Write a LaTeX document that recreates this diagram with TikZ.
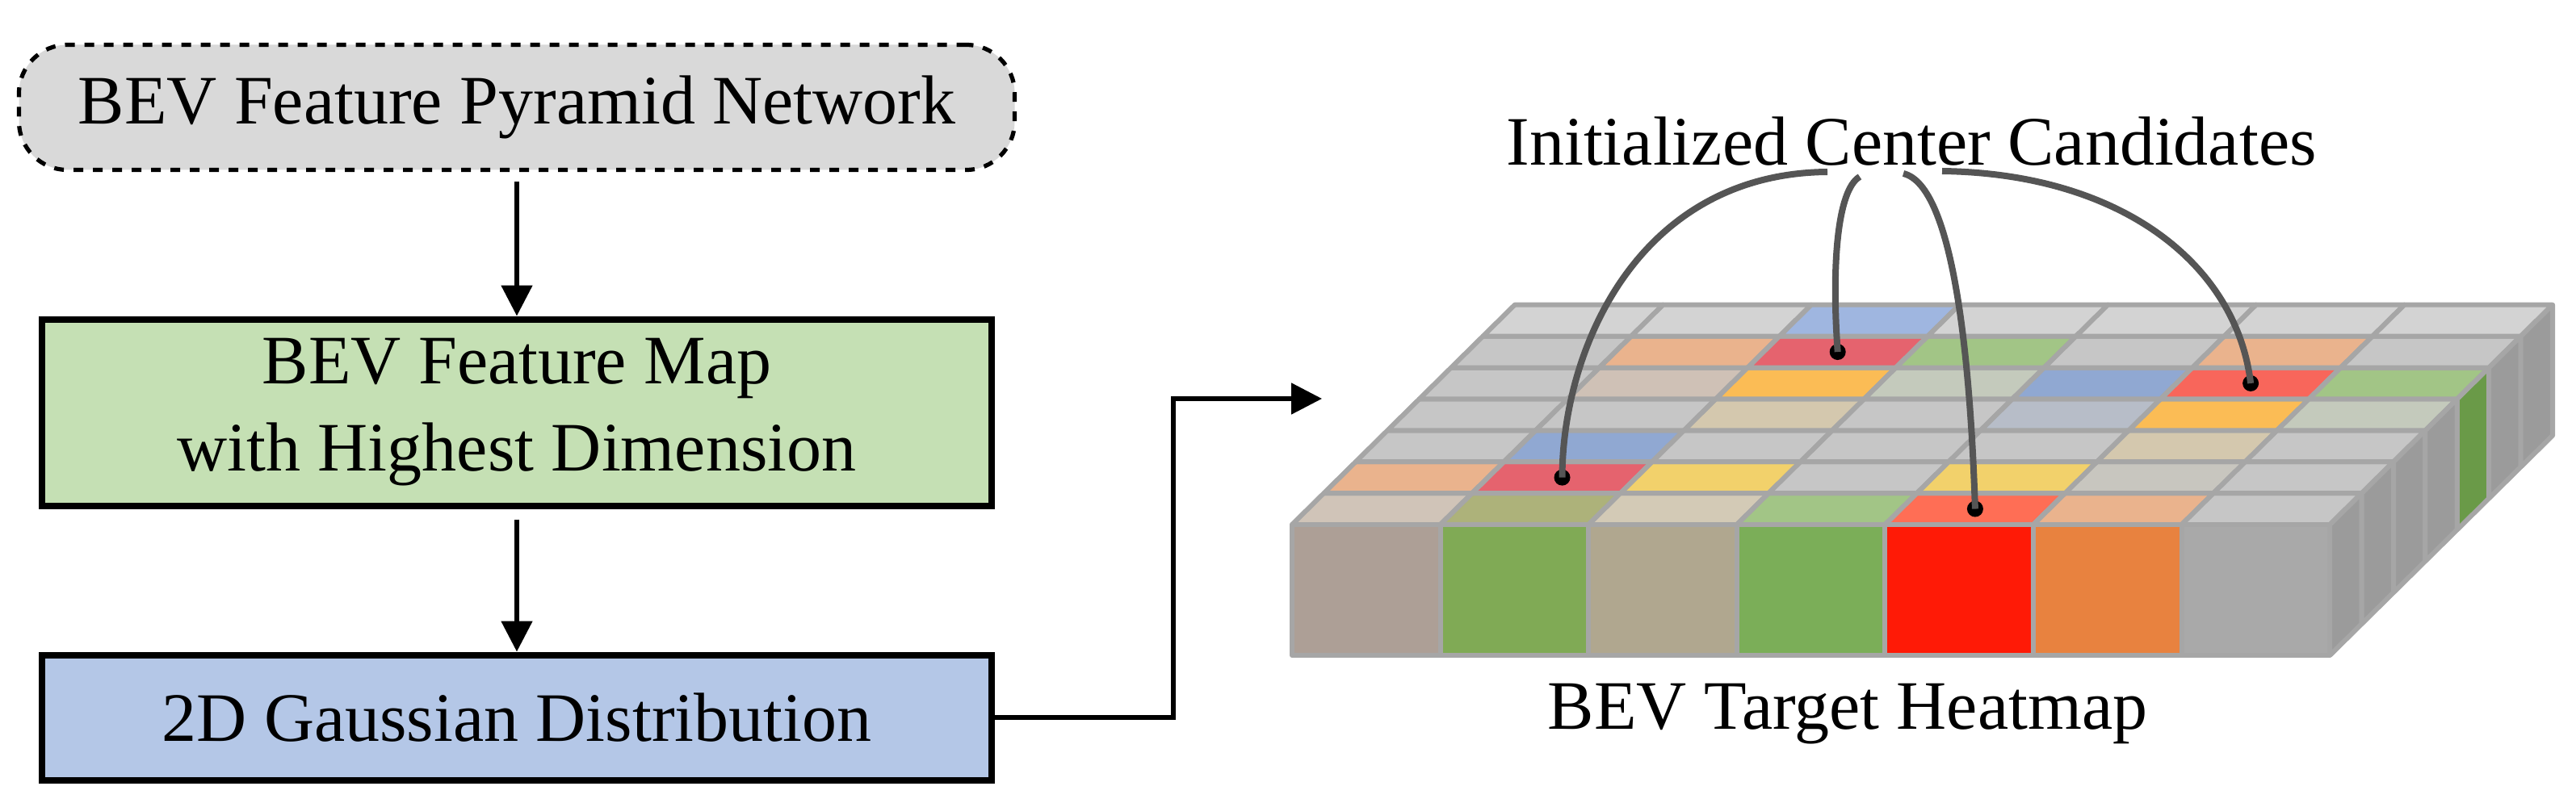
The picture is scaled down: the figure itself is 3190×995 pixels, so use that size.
\documentclass[tikz,border=0pt]{standalone}
\usepackage{fontspec}
\setmainfont{Liberation Serif}
\usetikzlibrary{arrows.meta}
\definecolor{cA}{HTML}{D0C4B8}\definecolor{cB}{HTML}{ADB27A}\definecolor{cC}{HTML}{D3CAB6}
\definecolor{cG}{HTML}{A2C586}\definecolor{cR}{HTML}{FF6E55}\definecolor{cP}{HTML}{EAB38D}
\definecolor{cH}{HTML}{C6C6C6}\definecolor{cK}{HTML}{E5636E}\definecolor{cY}{HTML}{F2D16B}
\definecolor{cI}{HTML}{C8C6BF}\definecolor{cL}{HTML}{90A8D2}\definecolor{cD}{HTML}{D4C8AE}
\definecolor{cE}{HTML}{B7BDC8}\definecolor{cO}{HTML}{FBBC55}\definecolor{cF}{HTML}{C4CABC}
\definecolor{cJ}{HTML}{CFC1B6}\definecolor{cM}{HTML}{F8665B}\definecolor{cN}{HTML}{D3D3D3}
\definecolor{cQ}{HTML}{9FB6E0}
\definecolor{fa}{HTML}{AD9F96}\definecolor{fb}{HTML}{80AA55}\definecolor{fc}{HTML}{B0A78F}
\definecolor{fd}{HTML}{7BAE58}\definecolor{fe}{HTML}{FF1A06}\definecolor{ff}{HTML}{E8823F}
\definecolor{fg}{HTML}{A9A9A9}
\definecolor{sg}{HTML}{9B9B9B}\definecolor{sgr}{HTML}{6A9A48}
\definecolor{gridl}{HTML}{A6A6A6}\definecolor{curvec}{HTML}{555555}
\definecolor{boxgrey}{HTML}{D9D9D9}\definecolor{boxgreen}{HTML}{C5E0B4}\definecolor{boxblue}{HTML}{B4C7E7}
\begin{document}
\begin{tikzpicture}[x=0.25pt,y=-0.25pt,
  txt/.style={font=\fontsize{21.5}{27}\selectfont},
  box/.style={draw=black,line width=2pt,minimum width=294pt,align=center,txt,inner sep=0pt},
  arr/.style={line width=1.3pt,-{Triangle[length=9.5pt,width=9.5pt]}},
  cell/.style={draw=gridl,line width=1.5pt,line join=round},
  cand/.style={draw=curvec,line width=2pt}]
\useasboundingbox (0,0) rectangle (3190,995);
% left flow
\node[box,draw,dashed,fill=boxgrey,rounded corners=15pt,minimum width=308.25pt,minimum height=38.75pt,line width=1.3pt] (fpn) at (640,133) {BEV Feature Pyramid Network};
\node[box,fill=boxgreen,minimum height=57.75pt] (map) at (640,511) {BEV Feature Map\\with Highest Dimension};
\node[box,fill=boxblue,minimum height=38.75pt] (gauss) at (640,889) {2D Gaussian Distribution};
\coordinate (heat) at (1637,494);
\draw[arr] (fpn.south) ++(0,12) coordinate (f1) (f1) -- (map.north);
\draw[arr] (map.south) ++(0,13) coordinate (m1) (m1) -- (gauss.north);
\draw[arr] (gauss.east) -| (1453,494) -- (heat);
% top face
\foreach \row [count=\r from 0] in {{cA,cB,cC,cG,cR,cP,cH},{cP,cK,cY,cH,cY,cI,cH},{cH,cL,cH,cH,cH,cD,cH},{cH,cH,cD,cH,cE,cO,cF},{cH,cJ,cO,cF,cL,cM,cG},{cH,cP,cK,cG,cH,cP,cH},{cN,cN,cQ,cN,cN,cN,cN}}{
  \foreach \col [count=\c from 0] in \row {
    \pgfmathsetmacro\rr{\r-1}
    \draw[cell,fill=\col] ({1600+\c*183.6+\rr*39.4+39.4},{650-\rr*38.9-38.9}) -- ++(183.6,0) -- ++(39.4,-38.9) -- ++(-183.6,0) -- cycle;
  }
}
% right side
\foreach \sc [count=\r from 0] in {sg,sg,sg,sg,sgr,sg,sg}{
  \pgfmathsetmacro\rr{\r-1}
  \draw[cell,fill=\sc] ({2885.2+\rr*39.4+39.4},{650-\rr*38.9-38.9}) -- ++(39.4,-38.9) -- ++(0,162) -- ++(-39.4,38.9) -- cycle;
}
% front
\foreach \fc [count=\c from 0] in {fa,fb,fc,fd,fe,ff,fg}{
  \pgfmathsetmacro\cc{\c-1}
  \draw[cell,fill=\fc] ({1600+\cc*183.6+183.6},650) rectangle ++(183.6,162);
}
% labels
\node[txt] (init) at (2367,175) {Initialized Center Candidates};
\node[txt] (target) at (2288,885) {BEV Target Heatmap};
% dots
\foreach \n/\c/\r in {d1/1/1,d2/2/5,d3/4/0,d4/5/4}{
  \node[circle,fill=black,inner sep=0pt,minimum size=5pt] (\n) at ({1600+(\c+0.5)*183.6+(\r+0.5)*39.4},{650-(\r+0.5)*38.9}) {};
}
\coordinate (s1) at (2263,213);\coordinate (s2) at (2303,219);
\coordinate (s3) at (2357,215);\coordinate (s4) at (2405,212);
\draw[cand] (s1) .. controls (2030,215) and (1935,430) .. (d1.center);
\draw[cand] (s2) .. controls (2275,235) and (2268,330) .. (d2.center);
\draw[cand] (s3) .. controls (2420,230) and (2440,450) .. (d3.center);
\draw[cand] (s4) .. controls (2630,215) and (2770,330) .. (d4.center);
\end{tikzpicture}
\end{document}
